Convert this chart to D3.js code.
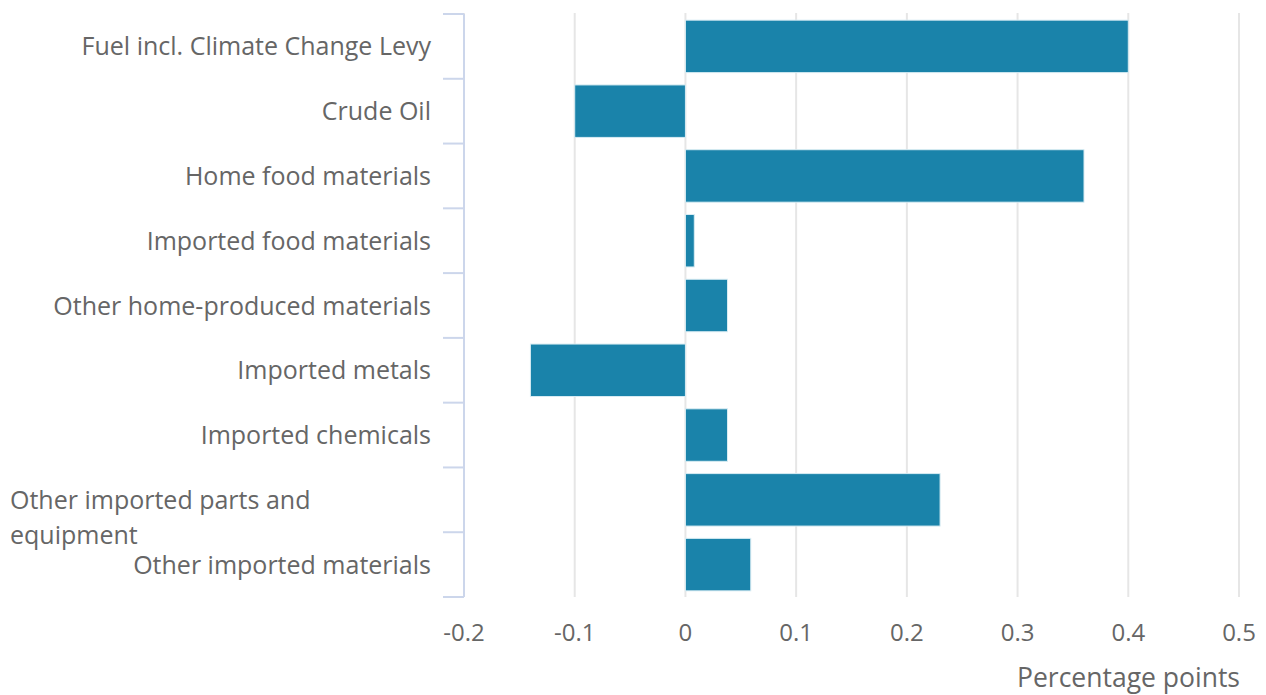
<!DOCTYPE html>
<html>
<head>
<meta charset="utf-8">
<script src="https://cdn.jsdelivr.net/npm/d3@7"></script>
<style>
    body { margin: 0; background: #fff; }
    svg { font-family: "Open Sans", sans-serif; }
</style>
</head>
<body>
<div id="chart"></div>
<script>
// categories and values (percentage points)
var categories = [
    "Fuel incl. Climate Change Levy",
    "Crude Oil",
    "Home food materials",
    "Imported food materials",
    "Other home-produced materials",
    "Imported metals",
    "Imported chemicals",
    "Other imported parts and equipment",
    "Other imported materials"
];
var values = [0.4, -0.1, 0.36, 0.008, 0.038, -0.14, 0.038, 0.23, 0.059];
var xTicks = [-0.2, -0.1, 0, 0.1, 0.2, 0.3, 0.4, 0.5];
var xTitle = "Percentage points";

var width = 1266, height = 695;
var margin = { top: 14, right: 27, bottom: 98, left: 464 };

var svg = d3.select("#chart")
    .append("svg")
    .attr("width", width)
    .attr("height", height);

var x = d3.scaleLinear()
    .domain([-0.2, 0.5])
    .range([margin.left, width - margin.right]);

var y = d3.scaleBand()
    .domain(categories)
    .range([margin.top, height - margin.bottom])
    .padding(0);

// vertical grid lines
svg.append("g")
    .selectAll("line")
    .data(xTicks)
    .enter()
    .append("line")
    .attr("x1", function (d) { return x(d); })
    .attr("x2", function (d) { return x(d); })
    .attr("y1", margin.top - 1)
    .attr("y2", height - margin.bottom)
    .attr("stroke", "#e6e6e6")
    .attr("stroke-width", 2);

// bars
svg.append("g")
    .selectAll("rect")
    .data(categories)
    .enter()
    .append("rect")
    .attr("x", function (d, i) { return x(Math.min(0, values[i])); })
    .attr("width", function (d, i) { return Math.abs(x(values[i]) - x(0)); })
    .attr("y", function (d) { return y(d) + y.bandwidth() * 0.095; })
    .attr("height", y.bandwidth() * 0.81)
    .attr("fill", "#1a83aa")
    .attr("stroke", "#d8ecf3")
    .attr("stroke-width", 1);

// category axis line and ticks
var yAxis = svg.append("g");
yAxis.append("line")
    .attr("x1", margin.left)
    .attr("x2", margin.left)
    .attr("y1", margin.top)
    .attr("y2", height - margin.bottom)
    .attr("stroke", "#ccd6eb")
    .attr("stroke-width", 2);

var bounds = categories.map(function (d) { return y(d); }).concat([height - margin.bottom]);
yAxis.selectAll(".tick")
    .data(bounds)
    .enter()
    .append("line")
    .attr("class", "tick")
    .attr("x1", margin.left - 21)
    .attr("x2", margin.left)
    .attr("y1", function (d) { return d; })
    .attr("y2", function (d) { return d; })
    .attr("stroke", "#ccd6eb")
    .attr("stroke-width", 2);

// category labels
yAxis.selectAll(".label")
    .data(categories)
    .enter()
    .append("text")
    .attr("class", "label")
    .attr("fill", "#666666")
    .attr("font-size", "25px")
    .each(function (d) {
        var t = d3.select(this);
        var cy = y(d) + y.bandwidth() / 2;
        if (d.length > 32) {
            // long label wraps to two left-aligned lines
            var words = d.split(" ");
            t.attr("text-anchor", "start");
            t.append("tspan").attr("x", 10).attr("y", cy + 9)
                .text(words.slice(0, 4).join(" "));
            t.append("tspan").attr("x", 10).attr("y", cy + 44)
                .text(words.slice(4).join(" "));
        } else {
            t.attr("text-anchor", "end")
                .attr("x", margin.left - 33)
                .attr("y", cy + 9)
                .text(d);
        }
    });

// x tick labels
svg.append("g")
    .selectAll("text")
    .data(xTicks)
    .enter()
    .append("text")
    .attr("x", function (d) { return x(d); })
    .attr("y", 641)
    .attr("text-anchor", "middle")
    .attr("fill", "#666666")
    .attr("font-size", "24px")
    .text(function (d) { return String(d); });

// x axis title
svg.append("text")
    .attr("x", width - margin.right + 1)
    .attr("y", 687)
    .attr("text-anchor", "end")
    .attr("fill", "#666666")
    .attr("font-size", "26.5px")
    .text(xTitle);
</script>
</body>
</html>
